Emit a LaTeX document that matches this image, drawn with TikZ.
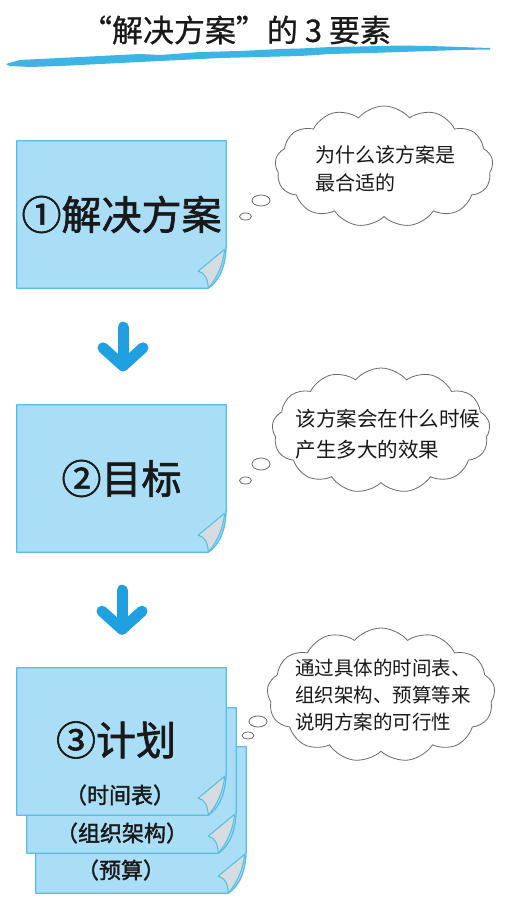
\documentclass[tikz,border=0pt]{standalone}
\usepackage{fontspec}
\setmainfont{Noto Sans CJK SC}
\newfontfamily\medfont[FakeBold=1.6]{Noto Sans CJK SC}
\newfontfamily\semifont[FakeBold=0.8]{Noto Sans CJK SC}
\usetikzlibrary{shapes.symbols,calc,backgrounds}
\definecolor{notefill}{RGB}{170,222,247}
\definecolor{noteedge}{RGB}{88,192,222}
\definecolor{curlfill}{RGB}{214,221,226}
\definecolor{arrowblue}{RGB}{30,160,225}
\definecolor{brushblue}{RGB}{60,180,228}
\definecolor{inkcol}{RGB}{25,25,25}
\definecolor{cloudedge}{RGB}{105,105,105}

\newcommand{\stickynote}[1]{%
  \fill[notefill,draw=noteedge,line width=1.3pt,line join=round]
    (#1.north west) -- (#1.north east) -- ([yshift=45pt]#1.south east)
    .. controls ([yshift=22pt]#1.south east) and ([xshift=-7pt,yshift=7pt]#1.south east) .. ([xshift=-18pt]#1.south east)
    -- (#1.south west) -- cycle;
  \filldraw[fill=curlfill,draw=noteedge,line width=1.1pt,line join=round]
    ([xshift=-1.5pt,yshift=39pt]#1.south east) -- ([xshift=-28pt,yshift=17pt]#1.south east)
    .. controls ([xshift=-21pt,yshift=16pt]#1.south east) and ([xshift=-18pt,yshift=8pt]#1.south east) .. ([xshift=-18pt]#1.south east)
    .. controls ([xshift=-9pt,yshift=10pt]#1.south east) and ([xshift=-3pt,yshift=24pt]#1.south east) .. ([xshift=-1.5pt,yshift=39pt]#1.south east);
}

\tikzset{
  notebox/.style={inner sep=0pt, text=inkcol, font=\medfont\fontsize{40}{40}\selectfont},
  subtext/.style={inner sep=0pt, text=inkcol, font=\medfont\fontsize{22}{22}\selectfont},
  thought/.style={cloud, cloud puffs=13, cloud puff arc=100, cloud ignores aspect, draw=cloudedge, line width=0.8pt, fill=white, inner sep=0pt},
  cloudtext/.style={inner sep=0pt, align=left, text=inkcol},
  bubble/.style={draw=cloudedge, line width=0.8pt, fill=white},
  arrowline/.style={draw=arrowblue, line width=11pt, line cap=round, line join=round},
}

\begin{document}
\begin{tikzpicture}[x=1pt,y=-1pt]
\useasboundingbox (0,0) rectangle (510,900);

% title
\node[inner sep=0pt, text=inkcol, font=\semifont\fontsize{31}{31}\selectfont] (title) at (236,30) {“解决方案”的 3 要素};
\fill[brushblue] (6,64) -- (20,60) -- (60,58) -- (100,56) -- (140,54) -- (160,55) -- (200,52) -- (240,51) -- (280,49) -- (300,48.5) -- (330,47) -- (360,46.5) -- (400,45.5) -- (430,46) -- (460,47) -- (490,48)
  -- (490,49.5) -- (460,50) -- (430,51) -- (400,52) -- (370,53) -- (330,54) -- (300,56) -- (260,57) -- (220,58) -- (180,60) -- (140,62) -- (100,64) -- (60,66) -- (30,67) -- (10,66) -- cycle;

% boxes
\node[notebox, minimum width=209pt, minimum height=147pt] (n1) at (121.5,214.5) {①解决方案};
\node[notebox, minimum width=209pt, minimum height=147pt] (n2) at (121.5,478.5) {②目标};
\node[inner sep=0pt, minimum width=210pt, minimum height=146pt] (n3c) at (141,820) {};
\node[inner sep=0pt, minimum width=209pt, minimum height=145pt] (n3b) at (131.5,780.5) {};
\node[inner sep=0pt, minimum width=209pt, minimum height=147pt] (n3a) at (121.5,741.5) {};
\node[notebox] (t3a) at (116,740) {③计划};
\node[subtext] (t3b) at (120,795) {（时间表）};
\node[subtext] (t3c) at (122,833) {（组织架构）};
\node[subtext] (t3d) at (121,870) {（预算）};

\begin{scope}[on background layer]
  \fill[white] (0,0) rectangle (510,900);
  \stickynote{n1}
  \stickynote{n2}
  \stickynote{n3c}
  \stickynote{n3b}
  \stickynote{n3a}
\end{scope}

% arrows
\coordinate (a1s) at ($(n1.south)+(1.5,39)$);
\coordinate (a1e) at ($(n2.north)+(1.5,-39)$);
\draw[arrowline] (a1s) -- (a1e);
\draw[arrowline] ($(a1e)+(-20,-18)$) -- (a1e) -- ($(a1e)+(20,-18)$);
\coordinate (a2s) at ($(n2.south)+(0.5,38)$);
\coordinate (a2e) at ($(n2.south)+(0.5,77)$);
\draw[arrowline] (a2s) -- (a2e);
\draw[arrowline] ($(a2e)+(-20,-18)$) -- (a2e) -- ($(a2e)+(20,-18)$);

% clouds
\node[thought, minimum width=218pt, minimum height=121pt] (c1) at (384,166.5) {};
\node[cloudtext, font=\fontsize{20}{28}\selectfont] (c1t) at (385,169) {为什么该方案是\\最合适的};
\draw[bubble] (261,200.5) ellipse [x radius=9, y radius=5.5];
\draw[bubble] (245.5,216.5) ellipse [x radius=6, y radius=3.5];

\node[thought, minimum width=218pt, minimum height=125pt] (c2) at (381,430.5) {};
\node[cloudtext, font=\fontsize{20.5}{31}\selectfont] (c2t) at (388,434) {该方案会在什么时候\\产生多大的效果};
\draw[bubble] (261,464) ellipse [x radius=9, y radius=6];
\draw[bubble] (245.5,480.5) ellipse [x radius=6, y radius=3.5];

\node[thought, minimum width=228pt, minimum height=134pt] (c3) at (381,695) {};
\node[cloudtext, font=\fontsize{19.5}{27}\selectfont] (c3t) at (383,695) {通过具体的时间表、\\组织架构、预算等来\\说明方案的可行性};
\draw[bubble] (258,721.5) ellipse [x radius=9, y radius=5.5];
\draw[bubble] (248,735.5) ellipse [x radius=6, y radius=3.5];
\end{tikzpicture}
\end{document}
